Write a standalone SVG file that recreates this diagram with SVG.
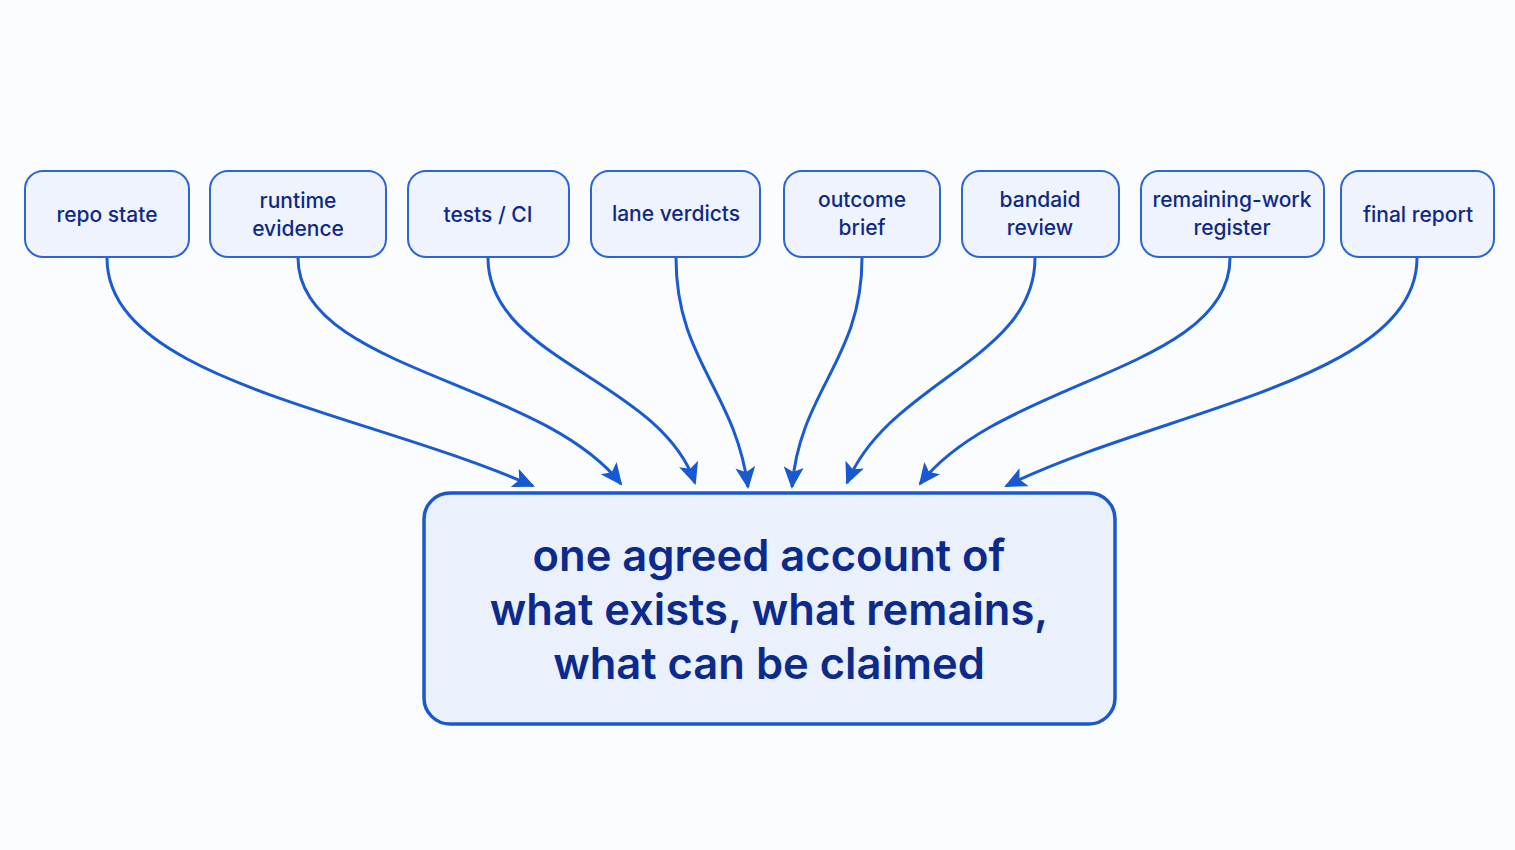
<svg xmlns="http://www.w3.org/2000/svg" width="1515" height="850" viewBox="0 0 1515 850">
<defs>
<marker id="ah" markerWidth="22" markerHeight="20" refX="20" refY="10" orient="auto" markerUnits="userSpaceOnUse">
<path d="M0,0 L22,10 L0,20 L5,10 Z" fill="#1858d0"/>
</marker>
</defs>
<style>
.bg{fill:#fbfcfe}
.n rect{fill:#eef3fd;stroke:#2a66d6;stroke-width:2}
.n text{font-family:Inter,"Liberation Sans",sans-serif;font-size:21px;font-weight:500;fill:#0f2a86;text-anchor:middle}
.m rect{fill:#eaf0fc;stroke:#1a58cc;stroke-width:3.5}
.m text{font-family:Inter,"Liberation Sans",sans-serif;font-size:43.5px;font-weight:600;fill:#0c2a8c;text-anchor:middle}
.c path{fill:none;stroke:#1a5bd2;stroke-width:3;marker-end:url(#ah)}
</style>
<rect class="bg" x="0" y="0" width="1515" height="850"/>
<g id="connectors" class="c">
<path d="M107,258 C107,380 360,410 533,486"/>
<path d="M298,258 C298,370 540,380 621,484"/>
<path d="M488,258 C488,360 660,380 695,483"/>
<path d="M676,258 C676,360 735,390 748,487"/>
<path d="M862,258 C862,360 800,390 792,487"/>
<path d="M1035,258 C1035,360 890,380 847,483"/>
<path d="M1230,258 C1230,370 1000,380 920,484"/>
<path d="M1417,258 C1417,380 1160,410 1006,486"/>
</g>
<g id="n1" class="n"><rect x="25" y="171" width="164" height="86" rx="18"/><text x="107" y="222">repo state</text></g>
<g id="n2" class="n"><rect x="210" y="171" width="176" height="86" rx="18"/><text x="298" y="208">runtime</text><text x="298" y="236">evidence</text></g>
<g id="n3" class="n"><rect x="408" y="171" width="161" height="86" rx="18"/><text x="488" y="222">tests / CI</text></g>
<g id="n4" class="n"><rect x="591" y="171" width="169" height="86" rx="18"/><text x="676" y="221">lane verdicts</text></g>
<g id="n5" class="n"><rect x="784" y="171" width="156" height="86" rx="18"/><text x="862" y="207">outcome</text><text x="862" y="235">brief</text></g>
<g id="n6" class="n"><rect x="962" y="171" width="157" height="86" rx="18"/><text x="1040" y="207">bandaid</text><text x="1040" y="235">review</text></g>
<g id="n7" class="n"><rect x="1141" y="171" width="183" height="86" rx="18"/><text x="1232" y="207">remaining-work</text><text x="1232" y="235">register</text></g>
<g id="n8" class="n"><rect x="1341" y="171" width="153" height="86" rx="18"/><text x="1418" y="222">final report</text></g>
<g id="main" class="m"><rect x="424" y="493" width="691" height="231" rx="26"/>
<text x="769" y="571">one agreed account of</text>
<text x="769" y="625">what exists, what remains,</text>
<text x="769" y="679">what can be claimed</text></g>
</svg>
